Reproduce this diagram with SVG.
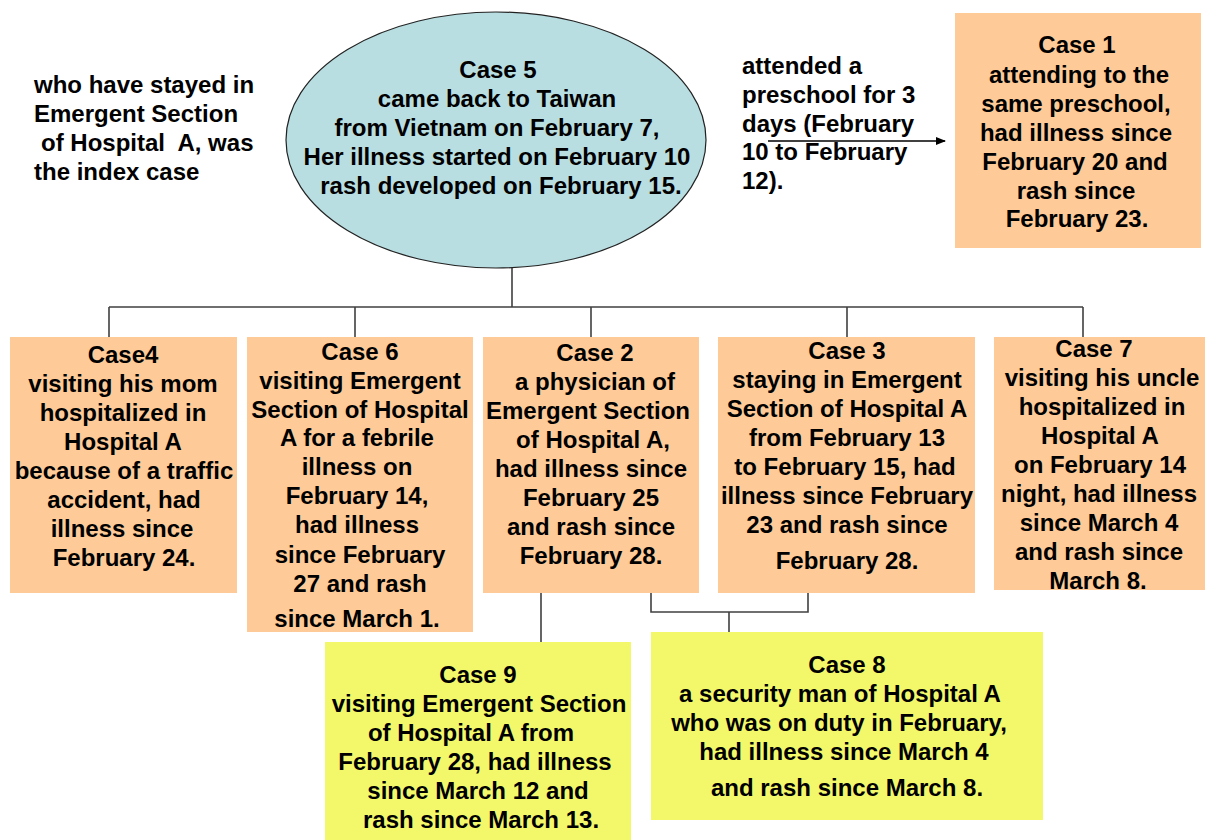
<svg xmlns="http://www.w3.org/2000/svg" width="1205" height="840" viewBox="0 0 1205 840">
<defs>
<marker id="arr" markerWidth="10" markerHeight="8" refX="9" refY="4" orient="auto" markerUnits="userSpaceOnUse">
<path d="M0,0 L10,4 L0,8 z" fill="#000"/>
</marker>
<style>
text{font-family:"Liberation Sans",Arial,sans-serif;font-weight:bold;font-size:24px;fill:#000;}
.c{text-anchor:middle;}
.b{font-size:24px;}
.orange{fill:#FECB98;stroke:none;}
.yellow{fill:#F2F86A;stroke:none;}
.ln{stroke:#404040;stroke-width:1.6;fill:none;}
</style>
</defs>
<rect width="1205" height="840" fill="#fff"/>

<g id="connectors">
<path class="ln" d="M512,268 V307 M109,307 H1083 M109,307 V337 M355,307 V337 M591,307 V337 M847,307 V337 M1083,307 V337"/>
<path class="ln" d="M541,593 V642 M651,593 V612 H808 V593 M729,612 V632"/>
<line x1="768" y1="141" x2="945" y2="141" stroke="#000" stroke-width="1.5" marker-end="url(#arr)"/>
</g>

<g id="note-index">
<text x="34" y="93">who have stayed in</text>
<text x="34" y="122">Emergent Section</text>
<text x="41" y="151" xml:space="preserve">of Hospital  A, was</text>
<text x="34" y="180">the index case</text>
</g>

<g id="case5">
<ellipse cx="496" cy="140" rx="210" ry="128" fill="#B8DEE2" stroke="#222" stroke-width="1.2"/>
<text class="c" x="498" y="78">Case 5</text>
<text class="c" x="497" y="107">came back to Taiwan</text>
<text class="c" x="497" y="136">from Vietnam on February 7,</text>
<text class="c" x="497" y="165">Her illness started on February 10</text>
<text class="c" x="501" y="194">rash developed on February 15.</text>
</g>

<g id="note-preschool">
<text x="742" y="74">attended a</text>
<text x="742" y="103">preschool for 3</text>
<text x="742" y="132">days (February</text>
<text x="742" y="160">10 to February</text>
<text x="742" y="189">12).</text>
</g>

<g id="case1">
<rect class="orange" x="955" y="13" width="246" height="235"/>
<text class="c" x="1077" y="53">Case 1</text>
<text class="c" x="1079" y="83">attending to the</text>
<text class="c" x="1076" y="112">same preschool,</text>
<text class="c" x="1076" y="141">had illness since</text>
<text class="c" x="1075" y="170">February 20 and</text>
<text class="c" x="1076" y="199">rash since</text>
<text class="c" x="1077" y="227">February 23.</text>
</g>

<g id="case4">
<rect class="orange" x="10" y="337" width="227" height="256"/>
<text class="c b" x="123" y="363">Case4</text>
<text class="c b" x="123" y="392">visiting his mom</text>
<text class="c b" x="123" y="421">hospitalized in</text>
<text class="c b" x="123" y="450">Hospital A</text>
<text class="c b" x="124" y="479">because of a traffic</text>
<text class="c b" x="124" y="508">accident, had</text>
<text class="c b" x="122" y="537">illness since</text>
<text class="c b" x="124" y="566">February 24.</text>
</g>

<g id="case6">
<rect class="orange" x="247" y="337" width="226" height="295"/>
<text class="c b" x="360" y="360">Case 6</text>
<text class="c b" x="360" y="389">visiting Emergent</text>
<text class="c b" x="360" y="418">Section of Hospital</text>
<text class="c b" x="357" y="446">A for a febrile</text>
<text class="c b" x="357" y="475">illness on</text>
<text class="c b" x="357" y="504">February 14,</text>
<text class="c b" x="357" y="533">had illness</text>
<text class="c b" x="360" y="563">since February</text>
<text class="c b" x="360" y="592">27 and rash</text>
<text class="c b" x="357" y="627">since March 1.</text>
</g>

<g id="case2">
<rect class="orange" x="483" y="337" width="216" height="256"/>
<text class="c b" x="595" y="361">Case 2</text>
<text class="c b" x="595" y="390">a physician of</text>
<text class="c b" x="588" y="419">Emergent Section</text>
<text class="c b" x="593" y="448">of Hospital A,</text>
<text class="c b" x="591" y="477">had illness since</text>
<text class="c b" x="591" y="506">February 25</text>
<text class="c b" x="591" y="535">and rash since</text>
<text class="c b" x="591" y="564">February 28.</text>
</g>

<g id="case3">
<rect class="orange" x="718" y="337" width="257" height="256"/>
<text class="c b" x="847" y="359">Case 3</text>
<text class="c b" x="847" y="388">staying in Emergent</text>
<text class="c b" x="847" y="417">Section of Hospital A</text>
<text class="c b" x="847" y="446">from February 13</text>
<text class="c b" x="845" y="475">to February 15, had</text>
<text class="c b" x="847" y="504">illness since February</text>
<text class="c b" x="847" y="533">23 and rash since</text>
<text class="c b" x="847" y="569">February 28.</text>
</g>

<g id="case7">
<rect class="orange" x="994" y="337" width="211" height="253"/>
<text class="c b" x="1094" y="357">Case 7</text>
<text class="c b" x="1102" y="386">visiting his uncle</text>
<text class="c b" x="1102" y="415">hospitalized in</text>
<text class="c b" x="1100" y="444">Hospital A</text>
<text class="c b" x="1100" y="473">on February 14</text>
<text class="c b" x="1099" y="502">night, had illness</text>
<text class="c b" x="1099" y="531">since March 4</text>
<text class="c b" x="1099" y="560">and rash since</text>
<text class="c b" x="1098" y="589">March 8.</text>
</g>

<g id="case9">
<rect class="yellow" x="325" y="642" width="306" height="198"/>
<text class="c b" x="478" y="683">Case 9</text>
<text class="c b" x="479" y="712">visiting Emergent Section</text>
<text class="c b" x="471" y="741">of Hospital A from</text>
<text class="c b" x="475" y="770">February 28, had illness</text>
<text class="c b" x="478" y="799">since March 12 and</text>
<text class="c b" x="481" y="828">rash since March 13.</text>
</g>

<g id="case8">
<rect class="yellow" x="651" y="632" width="392" height="188"/>
<text class="c b" x="847" y="673">Case 8</text>
<text class="c b" x="840" y="702">a security man of Hospital A</text>
<text class="c b" x="839" y="731">who was on duty in February,</text>
<text class="c b" x="844" y="760">had illness since March 4</text>
<text class="c b" x="847" y="796">and rash since March 8.</text>
</g>
</svg>
